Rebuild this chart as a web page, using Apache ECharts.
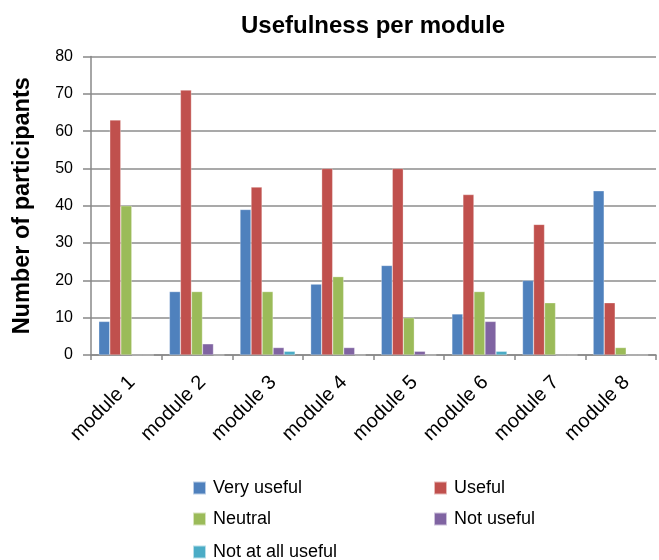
<!DOCTYPE html>
<html>
<head>
<meta charset="utf-8">
<script src="https://cdn.jsdelivr.net/npm/echarts@6/dist/echarts.min.js"></script>
<style>
  html, body { margin: 0; padding: 0; background: #fff; }
  #chart { width: 659px; height: 560px; }
</style>
</head>
<body>
<div id="chart"></div>
<script>
// Participant counts per module and rating
const modules = ['module 1', 'module 2', 'module 3', 'module 4', 'module 5', 'module 6', 'module 7', 'module 8'];
const veryUseful   = [9, 17, 39, 19, 24, 11, 20, 44];
const useful       = [63, 71, 45, 50, 50, 43, 35, 14];
const neutral      = [40, 17, 17, 21, 10, 17, 14, 2];
const notUseful    = [0, 3, 2, 2, 1, 9, 0, 0];
const notAtAll     = [0, 0, 1, 0, 0, 1, 0, 0];
const yTicks = [0, 10, 20, 30, 40, 50, 60, 70, 80];

const seriesDefs = [
  { name: 'Very useful', data: veryUseful, color: '#4F81BD' },
  { name: 'Useful', data: useful, color: '#C0504D' },
  { name: 'Neutral', data: neutral, color: '#9BBB59' },
  { name: 'Not useful', data: notUseful, color: '#8064A2' },
  { name: 'Not at all useful', data: notAtAll, color: '#4BACC6' }
];

const font = '"Liberation Sans", Arial, Helvetica, sans-serif';
// two-column legend layout
const legendPos = [
  { left: 192, top: 479 },
  { left: 433, top: 479 },
  { left: 192, top: 510 },
  { left: 433, top: 510 },
  { left: 192, top: 543 }
];

const chart = echarts.init(document.getElementById('chart'), null, { renderer: 'canvas' });
chart.setOption({
  animation: false,
  backgroundColor: '#fff',
  title: {
    text: 'Usefulness per module',
    left: 373, top: 14, textAlign: 'center', padding: 0,
    textStyle: { fontFamily: font, fontSize: 24, fontWeight: 'bold', color: '#000' }
  },
  legend: seriesDefs.map((s, i) => ({
    data: [s.name],
    left: legendPos[i].left, top: legendPos[i].top,
    padding: 0,
    itemWidth: 13, itemHeight: 13, itemGap: 6,
    icon: 'rect',
    textStyle: { fontFamily: font, fontSize: 18, color: '#000', padding: [0, 0, 0, 2] }
  })),
  grid: { left: 91, right: 3, top: 56.5, bottom: 205, containLabel: false },
  xAxis: {
    type: 'category',
    data: modules,
    axisLine: { lineStyle: { color: '#888', width: 1.5 } },
    axisTick: { show: true, length: 5, lineStyle: { color: '#888', width: 1.5 } },
    axisLabel: {
      rotate: 45, fontFamily: font, fontSize: 20, color: '#000', margin: 30,
      padding: [0, -8, 0, 0], interval: 0
    }
  },
  yAxis: {
    type: 'value',
    min: yTicks[0], max: yTicks[yTicks.length - 1], interval: 10,
    name: 'Number of participants',
    nameLocation: 'middle', nameGap: 56, nameRotate: 90,
    nameTextStyle: { fontFamily: font, fontSize: 23.5, fontWeight: 'bold', color: '#000' },
    axisLine: { show: true, lineStyle: { color: '#888', width: 1.5 } },
    axisTick: { show: true, length: 8, inside: false, lineStyle: { color: '#888', width: 1.5 } },
    axisLabel: { fontFamily: font, fontSize: 16, color: '#000', margin: 18 },
    splitLine: { show: true, lineStyle: { color: '#8c8c8c', width: 1.5 } }
  },
  series: seriesDefs.map(s => ({
    name: s.name,
    type: 'bar',
    data: s.data,
    barGap: '0%',
    barCategoryGap: '22%',
    itemStyle: { color: s.color, borderColor: 'rgba(255,255,255,0.6)', borderWidth: 0.5 }
  }))
});
</script>
</body>
</html>
